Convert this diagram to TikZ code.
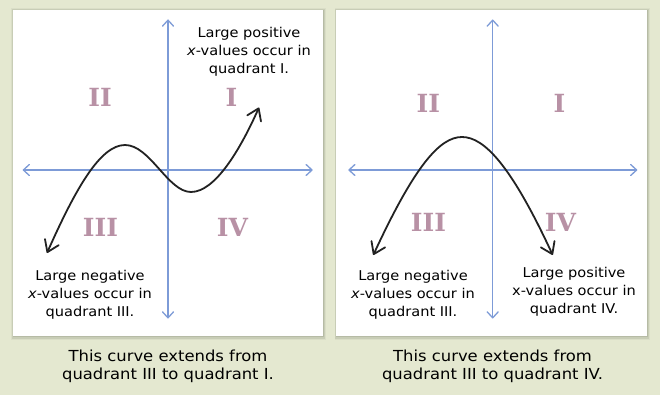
\documentclass[tikz,border=0pt]{standalone}
\usepackage{fontspec}
\setmainfont{DejaVu Sans}[FakeStretch=1.08]
\newfontfamily\numfont{DejaVu Serif}
\usetikzlibrary{arrows.meta}
\definecolor{bgc}{RGB}{228,232,208}
\definecolor{axisc}{RGB}{125,155,215}
\definecolor{numc}{RGB}{184,145,165}
\definecolor{curvec}{RGB}{34,34,34}
\definecolor{shadc}{RGB}{150,155,135}
\begin{document}
\begin{tikzpicture}[x=1pt,y=-1pt,
  panelbox/.style={fill=white},
  shadowbox/.style={fill=shadc},
  axisline/.style={draw=axisc, line width=1.3pt, line cap=round,
    {Straight Barb[length=6pt,width=11pt,line cap=round,line join=round]}-{Straight Barb[length=6pt,width=11pt,line cap=round,line join=round]}},
  curveline/.style={draw=curvec, line width=1.8pt, line cap=round,
    {Straight Barb[length=11pt,width=15pt,line cap=round,line join=round]}-{Straight Barb[length=11pt,width=15pt,line cap=round,line join=round]}},
  quad/.style={text=numc, font=\numfont\bfseries\fontsize{25}{25}\selectfont, inner sep=0pt},
  note/.style={font=\fontsize{13.5}{18}\selectfont, align=center, inner sep=0pt, anchor=base},
  caption/.style={font=\fontsize{15.2}{17.6}\selectfont, align=center, inner sep=0pt, anchor=base}
]
\useasboundingbox (0,0) rectangle (660,395);
\fill[bgc] (0,0) rectangle (660,395);

% panel shadows
\foreach \xa/\xb in {12.7/323.3, 336/646.7}{
  \fill[shadc, opacity=0.12] (\xa-1.5,10-1.5) rectangle (\xb+3,336+3.5);
  \fill[shadc, opacity=0.25] (\xa-0.7,10-0.7) rectangle (\xb+2,336+2.5);
  \fill[shadc, opacity=0.35] (\xa,10) rectangle (\xb+1,336+1.2);
}
\fill[panelbox] (12.7,10) rectangle (323.3,336);
\fill[panelbox] (336,10) rectangle (646.7,336);

% ---------- panel 1 ----------
\coordinate (h1l) at (22.7,170);
\coordinate (h1r) at (312.7,170);
\coordinate (v1t) at (168,19.5);
\coordinate (v1b) at (168,318.5);
\draw[axisline] (h1l) -- (h1r);
\draw[axisline] (v1b) -- (v1t);

\node[quad] (q1II) at (100,97.5) {II};
\node[quad] (q1I) at (231.5,97.5) {I};
\node[quad] (q1III) at (100.5,227) {III};
\node[quad] (q1IV) at (232.5,227.5) {IV};

\coordinate (c1s) at (47,253);
\coordinate (c1max) at (125,145);
\coordinate (c1min) at (191,192);
\coordinate (c1e) at (259,107.5);
\draw[curveline] (c1s) .. controls (75,190) and (100,145) .. (c1max)
  .. controls (150,145) and (168,192) .. (c1min)
  .. controls (215,192) and (240,150) .. (c1e);

\node[note] (t1a) at (249,74) {Large positive\\\textit{x}-values occur in\\quadrant I.};
\node[note] (t1b) at (90,316.7) {Large negative\\\textit{x}-values occur in\\quadrant III.};
\node[caption] (cap1) at (168,379.3) {This curve extends from\\quadrant III to quadrant I.};

% ---------- panel 2 ----------
\coordinate (h2l) at (348.3,170);
\coordinate (h2r) at (637.3,170);
\coordinate (v2t) at (492.7,19.5);
\coordinate (v2b) at (492.7,318.5);
\draw[axisline] (h2l) -- (h2r);
\draw[axisline] (v2b) -- (v2t);

\node[quad] (q2II) at (428.3,103.3) {II};
\node[quad] (q2I) at (559.5,103.3) {I};
\node[quad] (q2III) at (428.5,222) {III};
\node[quad] (q2IV) at (560.5,222) {IV};

\coordinate (c2s) at (373.3,255);
\coordinate (c2top) at (462,137);
\coordinate (c2e) at (552.7,255);
\draw[curveline] (c2s) .. controls (415,165) and (440,137) .. (c2top)
  .. controls (484,137) and (511,165) .. (c2e);

\node[note] (t2a) at (413,316.7) {Large negative\\\textit{x}-values occur in\\quadrant III.};
\node[note] (t2b) at (574,313.3) {Large positive\\x-values occur in\\quadrant IV.};
\node[caption] (cap2) at (492.5,379.3) {This curve extends from\\quadrant III to quadrant IV.};
\end{tikzpicture}
\end{document}
